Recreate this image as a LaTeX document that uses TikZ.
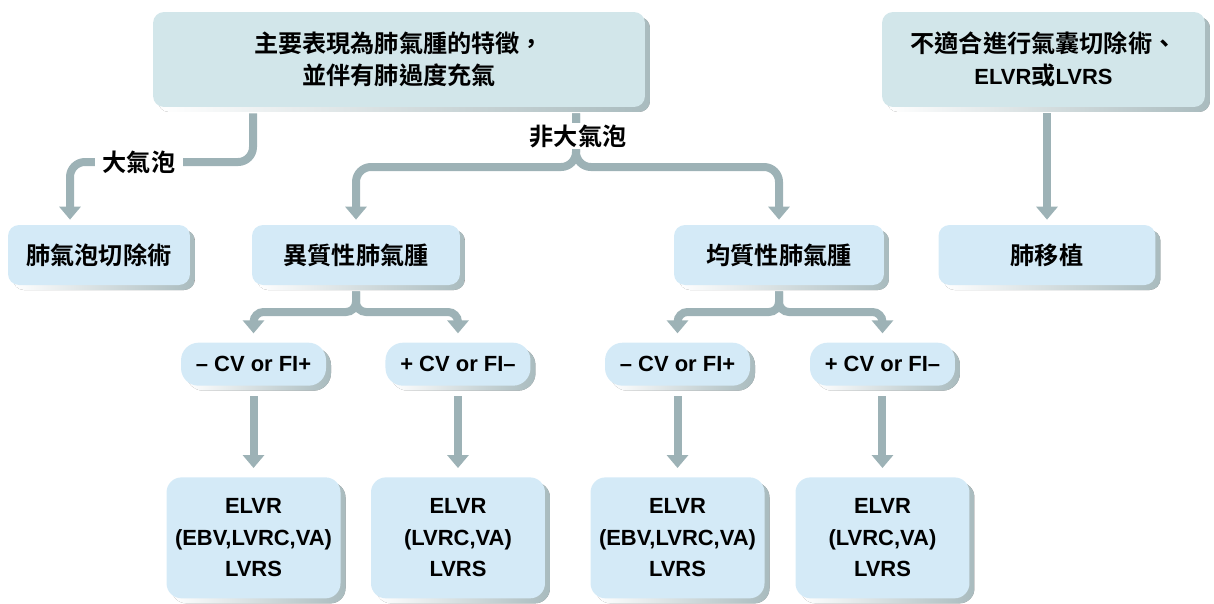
\documentclass[tikz,border=0pt]{standalone}
\usepackage{fontspec}
\setmainfont{Liberation Sans}
\newfontfamily\cjk{Noto Sans CJK TC}[BoldFont={Noto Sans CJK TC Bold},Scale=1.1]
\usetikzlibrary{shapes,arrows.meta,calc,positioning,shadows}
\definecolor{topFill}{HTML}{D2E6EA}
\definecolor{boxFill}{HTML}{D4EAF7}
\definecolor{shadowGray}{HTML}{A9BBBE}
\definecolor{lineGray}{HTML}{9DB2B6}
\tikzset{
    base/.style = {rectangle, align=center, inner sep=0pt,
        font=\bfseries\fontsize{12.5}{18}\selectfont,
        drop shadow={shadow xshift=0.1cm, shadow yshift=-0.1cm, opacity=1,
            left color=white, middle color=shadowGray, right color=shadowGray}},
    topblock/.style = {base, fill=topFill, rounded corners=0.22cm,
        minimum height=1.9cm},
    block/.style = {base, fill=boxFill, rounded corners=0.22cm,
        minimum height=1.2cm},
    pill/.style = {base, fill=boxFill, rounded corners=0.35cm,
        minimum height=0.86cm, minimum width=2.9cm},
    result/.style = {base, fill=boxFill, rounded corners=0.3cm,
        minimum height=2.42cm, minimum width=3.48cm},
    conn/.style = {draw=lineGray, line width=0.16cm, rounded corners=0.3cm,
        -{Triangle[width=0.42cm,length=0.26cm]},
        shorten <=0.12cm, shorten >=0.1cm},
    tag/.style = {fill=white, font=\cjk\bfseries\fontsize{12.5}{18}\selectfont,
        inner ysep=1pt, inner xsep=0.16cm},
}

\begin{document}
\begin{tikzpicture}[x=0.02cm, y=-0.02cm]
	\useasboundingbox (0,0) rectangle (1214,603);

	% top row
	\node [topblock, minimum width=9.84cm, name=mainFeat] at (399,59.5)
		{{\cjk 主要表現為肺氣腫的特徵，}\\{\cjk 並伴有肺過度充氣}};
	\node [topblock, minimum width=6.46cm, name=notSuitable] at (1043.5,59.5)
		{{\cjk 不適合進行氣囊切除術、}\\ELVR{\cjk 或}LVRS};

	% emphysema type
	\node [block, minimum width=3.64cm, name=bullectomy] at (99,255) {\cjk 肺氣泡切除術};
	\node [block, minimum width=4.16cm, name=hetEmph] at (356,255) {\cjk 異質性肺氣腫};
	\node [block, minimum width=4.2cm, name=homEmph] at (779,255) {\cjk 均質性肺氣腫};
	\node [block, minimum width=4.34cm, name=lungTx] at (1047,255) {\cjk 肺移植};

	% collateral ventilation
	\node [pill, below=1.14cm of hetEmph, xshift=-2.05cm, name=hetNeg] {– CV or FI+};
	\node [pill, below=1.14cm of hetEmph, xshift=2.04cm, name=hetPos] {+ CV or FI–};
	\node [pill, below=1.14cm of homEmph, xshift=-2.03cm, name=homNeg] {– CV or FI+};
	\node [pill, below=1.14cm of homEmph, xshift=2.07cm, name=homPos] {+ CV or FI–};

	% treatment
	\node [result, below=1.82cm of hetNeg, name=hetNegOut] {ELVR\\(EBV,LVRC,VA)\\LVRS};
	\node [result, below=1.82cm of hetPos, name=hetPosOut] {ELVR\\(LVRC,VA)\\LVRS};
	\node [result, below=1.82cm of homNeg, name=homNegOut] {ELVR\\(EBV,LVRC,VA)\\LVRS};
	\node [result, below=1.82cm of homPos, name=homPosOut] {ELVR\\(LVRC,VA)\\LVRS};

	% forks
	\coordinate (bullaFork) at (253,162);
	\coordinate (nonBullaFork) at (576,167);
	\coordinate (hetFork) at (356,312);
	\coordinate (homFork) at (779,312);

	%%lines
	\draw [conn] (bullaFork |- mainFeat.south) -- (bullaFork) -| ([xshift=-0.58cm]bullectomy.north);
	\node [tag, name=bullaTag] at (139,162) {大氣泡};
	\draw [conn] (nonBullaFork |- mainFeat.south) -- (nonBullaFork) -| (hetEmph.north);
	\draw [conn] (nonBullaFork |- mainFeat.south) -- (nonBullaFork) -| (homEmph.north);
	\node [tag, name=nonBullaTag] at (578,136) {非大氣泡};
	\draw [conn] (lungTx.north |- notSuitable.south) -- (lungTx.north);

	\draw [conn, rounded corners=0.2cm, shorten >=0.18cm] (hetFork |- hetEmph.south) -- (hetFork) -| (hetNeg.north);
	\draw [conn, rounded corners=0.2cm, shorten >=0.18cm] (hetFork |- hetEmph.south) -- (hetFork) -| (hetPos.north);
	\draw [conn, rounded corners=0.2cm, shorten >=0.18cm] (homFork |- homEmph.south) -- (homFork) -| (homNeg.north);
	\draw [conn, rounded corners=0.2cm, shorten >=0.18cm] (homFork |- homEmph.south) -- (homFork) -| (homPos.north);

	\draw [conn, shorten <=0.2cm, shorten >=0.18cm] (hetNeg) -- (hetNegOut);
	\draw [conn, shorten <=0.2cm, shorten >=0.18cm] (hetPos) -- (hetPosOut);
	\draw [conn, shorten <=0.2cm, shorten >=0.18cm] (homNeg) -- (homNegOut);
	\draw [conn, shorten <=0.2cm, shorten >=0.18cm] (homPos) -- (homPosOut);
\end{tikzpicture}
\end{document}
